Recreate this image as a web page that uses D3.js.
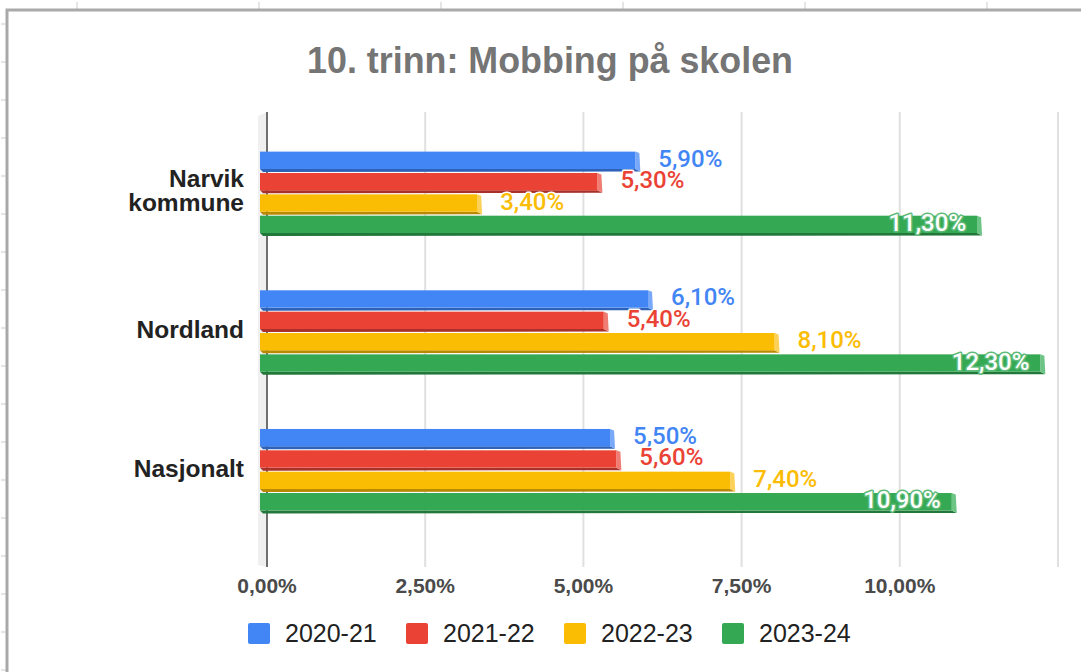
<!DOCTYPE html>
<html>
<head>
<meta charset="utf-8">
<script src="https://cdn.jsdelivr.net/npm/d3@7"></script>
<style>
  html, body { margin: 0; padding: 0; background: #fff; }
  svg { display: block; }
</style>
</head>
<body>
<svg id="chart" width="1081" height="672"></svg>
<script>
// data
const categories = ["Narvik kommune", "Nordland", "Nasjonalt"];
const series = ["2020-21", "2021-22", "2022-23", "2023-24"];
const values2020 = [5.9, 6.1, 5.5];
const values2021 = [5.3, 5.4, 5.6];
const values2022 = [3.4, 8.1, 7.4];
const values2023 = [11.3, 12.3, 10.9];
const tickValues = [0, 2.5, 5, 7.5, 10, 12.5];
const labelledTicks = [0, 2.5, 5, 7.5, 10];

const colors = ["#4285F4", "#EA4335", "#FBBC04", "#34A853"];
const darkColors = ["#2d62b8", "#a8312a", "#b88a04", "#22773a"];
const lightColors = ["#78a8f7", "#f07d73", "#fcd15a", "#6cc485"];

const allValues = [values2020, values2021, values2022, values2023];
const rows = [];
categories.forEach((c, ci) => {
  series.forEach((s, si) => {
    rows.push({ category: c, series: s, si: si, value: allValues[si][ci] });
  });
});

const svg = d3.select('#chart');
const W = 1081, H = 672;

// spreadsheet background: frame + cell ticks
const bg = svg.append('g');
d3.range(77, W, 182).forEach(x => {
  bg.append('line').attr('x1', x).attr('x2', x).attr('y1', 2).attr('y2', 9)
    .attr('stroke', '#ddd').attr('stroke-width', 1.5);
});
d3.range(24, H, 38).forEach(y => {
  bg.append('line').attr('x1', 1).attr('x2', 6).attr('y1', y).attr('y2', y)
    .attr('stroke', '#ddd').attr('stroke-width', 1.5);
});
bg.append('path')
  .attr('d', `M7,${H} L7,10 L${W},10`)
  .attr('fill', 'none').attr('stroke', '#a9a9a9').attr('stroke-width', 3);

// title
svg.append('text')
  .attr('x', 550).attr('y', 73)
  .attr('text-anchor', 'middle')
  .attr('textLength', 486)
  .attr('lengthAdjust', 'spacingAndGlyphs')
  .style('font-family', '"Liberation Sans", Arial, sans-serif')
  .style('font-weight', 'bold')
  .style('font-size', '37px')
  .style('fill', '#757575')
  .text('10. trinn: Mobbing på skolen');

// scales
const x = d3.scaleLinear().domain([0, 12.5]).range([267, 1058]);
const y = d3.scaleBand().domain(categories).range([125, 541])
  .paddingInner(0.384).paddingOuter(0.192);
const ySub = d3.scaleBand().domain(series).range([0, y.bandwidth()]);

const locale = d3.formatLocale({ decimal: ",", thousands: " ", grouping: [3], currency: ["", "kr"] });
const pct = v => locale.format(".2f")(v) + "%";

const plotTop = 112, plotBottom = 567;

// gridlines
svg.append('g').selectAll('line')
  .data(tickValues.slice(1))
  .join('line')
  .attr('x1', d => x(d)).attr('x2', d => x(d))
  .attr('y1', plotTop).attr('y2', plotBottom)
  .attr('stroke', '#e0e0e0').attr('stroke-width', 2);

// 3d wall shadow + zero axis
svg.append('path')
  .attr('d', `M${x(0) - 9},${plotTop + 4} L${x(0)},${plotTop} L${x(0)},${plotBottom} L${x(0) - 9},${plotBottom - 2} Z`)
  .attr('fill', '#f0f0f0');
svg.append('line')
  .attr('x1', x(0)).attr('x2', x(0))
  .attr('y1', plotTop).attr('y2', plotBottom)
  .attr('stroke', '#6f6f6f').attr('stroke-width', 2);

// x tick labels
svg.append('g').selectAll('text')
  .data(labelledTicks)
  .join('text')
  .attr('x', d => x(d)).attr('y', 593)
  .attr('text-anchor', 'middle')
  .style('font-family', '"Liberation Sans", Arial, sans-serif')
  .style('font-weight', 'bold')
  .style('font-size', '21px')
  .style('fill', '#4a4a4a')
  .text(d => pct(d));

// category labels
const catG = svg.append('g');
categories.forEach(c => {
  const words = c.split(' ');
  const cy = y(c) + y.bandwidth() / 2;
  const t = catG.append('text')
    .attr('x', 244)
    .attr('text-anchor', 'end')
    .style('font-family', '"Liberation Sans", Arial, sans-serif')
    .style('font-weight', 'bold')
    .style('font-size', '24.5px')
    .style('fill', '#222');
  const lh = 24;
  const first = cy + 5 - (words.length - 1) * lh / 2;
  words.forEach((w, i) => {
    t.append('tspan').attr('x', 244).attr('y', first + i * lh).text(w);
  });
});

// bars (3d-ish)
const barH = ySub.bandwidth() - 1;
const front = barH - 3;
const bars = svg.append('g').selectAll('g.bar')
  .data(rows)
  .join('g').attr('class', 'bar')
  .attr('transform', d => `translate(0,${y(d.category) + ySub(d.series)})`);

bars.append('path') // bottom face
  .attr('d', d => {
    const xs = x(0) - 7, xe = x(d.value) - 5;
    return `M${xs},${front} L${xe},${front} L${xe + 5},${barH - 0.5} L${xs + 3},${barH} Z`;
  })
  .attr('fill', d => darkColors[d.si]);
bars.append('path') // right face
  .attr('d', d => {
    const xe = x(d.value) - 5;
    return `M${xe},0 L${xe + 4},1.5 L${xe + 5},${barH - 0.5} L${xe},${front} Z`;
  })
  .attr('fill', d => lightColors[d.si]);
bars.append('rect') // front face
  .attr('x', x(0) - 7)
  .attr('y', 0)
  .attr('width', d => x(d.value) - 5 - (x(0) - 7))
  .attr('height', front)
  .attr('fill', d => colors[d.si]);

// data labels
bars.append('text')
  .attr('x', d => d.si === 3 ? x(d.value) - 16 : x(d.value) + 18)
  .attr('y', barH / 2 + 5)
  .attr('text-anchor', d => d.si === 3 ? 'end' : 'start')
  .style('font-family', 'Roboto, sans-serif')
  .style('font-weight', '500')
  .style('font-size', '24px')
  .style('paint-order', 'stroke')
  .style('stroke', d => d.si === 3 ? '#5dbb78' : '#fff')
  .style('stroke-width', 3)
  .style('stroke-linejoin', 'round')
  .style('fill', d => d.si === 3 ? '#fff' : colors[d.si])
  .text(d => pct(d.value));

// legend
const legend = svg.append('g').selectAll('g')
  .data(series)
  .join('g')
  .attr('transform', (d, i) => `translate(${248 + i * 158},623)`);
legend.append('rect')
  .attr('width', 22).attr('height', 21).attr('rx', 2)
  .attr('fill', (d, i) => colors[i]);
legend.append('text')
  .attr('x', 37).attr('y', 19)
  .style('font-family', '"Liberation Sans", Arial, sans-serif')
  .style('font-size', '25px')
  .style('fill', '#222')
  .text(d => d);
</script>
</body>
</html>
